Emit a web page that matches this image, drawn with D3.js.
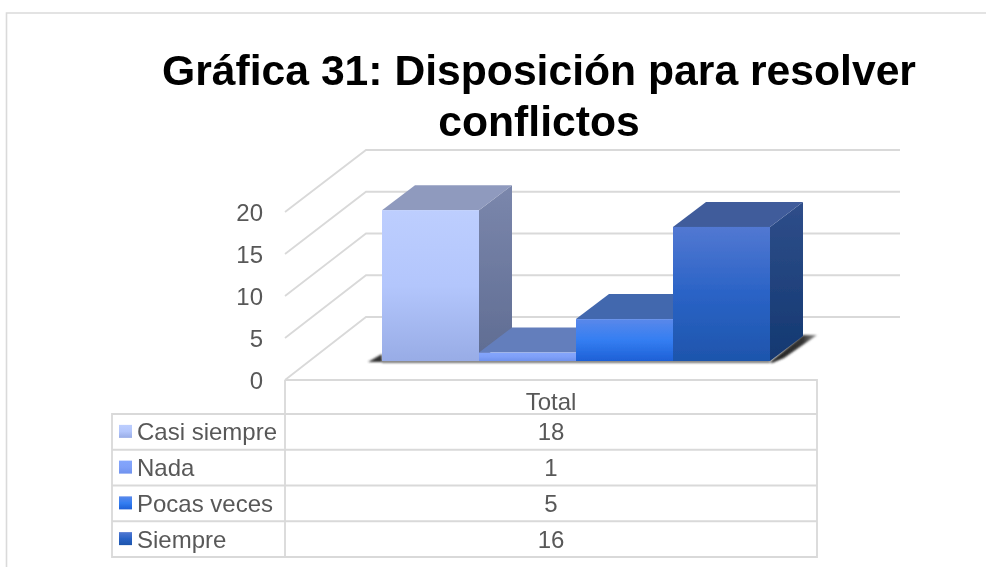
<!DOCTYPE html>
<html><head><meta charset="utf-8">
<script src="https://cdn.jsdelivr.net/npm/d3@7"></script>
<style>html,body{margin:0;padding:0;background:#fff}svg{display:block}text{font-family:"Liberation Sans",Arial,sans-serif}</style>
</head><body><div id="c"></div>
<script>
const titleLines = ["Gráfica 31: Disposición para resolver", "conflictos"];
const categories = ["Casi siempre", "Nada", "Pocas veces", "Siempre"];
const values = [18, 1, 5, 16];
const groupLabel = "Total";
const yTicks = [0, 5, 10, 15, 20];
const frontStops = [["#BDCEFE","#B3C6FC","#98ACE6"],["#84A6FD","#7FA0F8","#6F92EE"],["#5A88EA","#347EF2","#1E60D6"],["#5278D2","#2A63C6","#1E55AC"]];
const topColors = ["#8F9ABE","#647EBC","#4267AE","#3F5C9B"];
const sideStops = [["#7B87AC","#5F6C92"],["#5F76B0","#4A62A0"],["#2E5AA8","#1E4A98"],["#2F4E8A","#133871"]];

const W = 986, H = 567;
const svg = d3.select("#c").append("svg").attr("width", W).attr("height", H);
const defs = svg.append("defs");
const grey = "#D9D9D9", txt = "#595959";

function grad(id, stops){
  const g = defs.append("linearGradient").attr("id", id).attr("x1",0).attr("y1",0).attr("x2",0).attr("y2",1);
  stops.forEach((c,i)=>g.append("stop").attr("offset", i/(stops.length-1)).attr("stop-color", c));
}
categories.forEach((c,i)=>{ grad("f"+i, frontStops[i]); grad("s"+i, sideStops[i]); });
defs.append("filter").attr("id","blur").attr("x","-20%").attr("y","-50%").attr("width","140%").attr("height","200%")
  .append("feGaussianBlur").attr("stdDeviation",1.3);
defs.append("filter").attr("id","soft").attr("filterUnits","userSpaceOnUse").attr("x",0).attr("y",0).attr("width",W).attr("height",H)
  .append("feGaussianBlur").attr("stdDeviation",0.4);
const sg = defs.append("linearGradient").attr("id","shR").attr("x1",0).attr("y1",0).attr("x2",1).attr("y2",0);
sg.append("stop").attr("offset",0).attr("stop-color","#222");
sg.append("stop").attr("offset",0.7).attr("stop-color","#333");
sg.append("stop").attr("offset",1).attr("stop-color","#999");

const root = svg.append("g").attr("filter","url(#soft)");
root.append("rect").attr("width",W).attr("height",H).attr("fill","#fff");

// outer frame
root.append("path").attr("d",`M6.5,${H}V13H${W}`).attr("fill","none").attr("stroke","#DADADA").attr("stroke-width",1.6);

// title
root.selectAll("text.title").data(titleLines).join("text").attr("class","title")
  .attr("x",539).attr("y",(d,i)=>85+i*51).attr("text-anchor","middle")
  .attr("font-size",42.66).attr("font-weight","bold").attr("fill","#000").text(d=>d);

// scales
const x = d3.scaleBand().domain(categories).range([382,770]);
const barY = d3.scaleLinear().domain([0,20]).range([361,193.4]);
const wallFront = d3.scaleLinear().domain([0,20]).range([380,212]);
const wallBack = d3.scaleLinear().domain([0,20]).range([317,150]);
const depthX = 33, depthY = 25;
const wallL = 285, wallM = 366, wallR = 900, tableR = 817;

// gridlines
const grid = root.append("g").attr("fill","none").attr("stroke",grey).attr("stroke-width",1.8);
yTicks.forEach(t=>{
  grid.append("path").attr("d",`M${wallL},${wallFront(t)}L${wallM},${wallBack(t)}H${wallR}`);
});
// tick labels
root.selectAll("text.tick").data(yTicks).join("text").attr("class","tick")
  .attr("x",263).attr("y",d=>wallFront(d)+9).attr("text-anchor","end")
  .attr("font-size",24).attr("fill",txt).text(d=>d);

// floor shadow
const sh = root.append("g").attr("filter","url(#blur)").attr("fill","#333");
sh.append("path").attr("d",`M368,362L382,354V362Z`);
sh.append("path").attr("d",`M382,360H770V363H382Z`).attr("fill","#777");
sh.append("path").attr("d",`M770,362L803,335H817L784,358L772,363Z`).attr("fill","url(#shR)");

// bars
const bars = root.selectAll("g.bar").data(categories).join("g").attr("class","bar");
bars.each(function(c,i){
  const g = d3.select(this), x0 = x(c), x1 = x0 + x.bandwidth(), y0 = barY(0), yt = barY(values[i]);
  g.append("path").attr("d",`M${x1},${y0}L${x1+depthX},${y0-depthY}V${yt-depthY}L${x1},${yt}Z`).attr("fill",`url(#s${i})`);
  g.append("path").attr("d",`M${x0},${yt}L${x0+depthX},${yt-depthY}H${x1+depthX}L${x1},${yt}Z`).attr("fill",topColors[i]);
  g.append("rect").attr("x",x0).attr("y",yt).attr("width",x.bandwidth()).attr("height",y0-yt).attr("fill",`url(#f${i})`);
});

// data table
const rowY = d3.scalePoint().domain(d3.range(categories.length+1)).range([414,557]);
const tbl = root.append("g").attr("fill","none").attr("stroke",grey).attr("stroke-width",1.8);
tbl.append("path").attr("d",`M${wallL},380H${tableR}V557H112V414H${tableR}M${wallL},380V557`);
d3.range(1,categories.length).forEach(i=>tbl.append("path").attr("d",`M112,${rowY(i)}H${tableR}`));
root.append("text").attr("x",551).attr("y",410).attr("text-anchor","middle").attr("font-size",24).attr("fill",txt).text(groupLabel);
categories.forEach((c,i)=>{
  const cy = rowY(i)+ (rowY(i+1)-rowY(i))/2;
  root.append("rect").attr("x",119).attr("y",cy-7).attr("width",13).attr("height",13).attr("fill",`url(#f${i})`);
  root.append("text").attr("x",137).attr("y",cy+8.5).attr("font-size",24).attr("fill",txt).text(c);
  root.append("text").attr("x",551).attr("y",cy+8.5).attr("text-anchor","middle").attr("font-size",24).attr("fill",txt).text(values[i]);
});
</script></body></html>
